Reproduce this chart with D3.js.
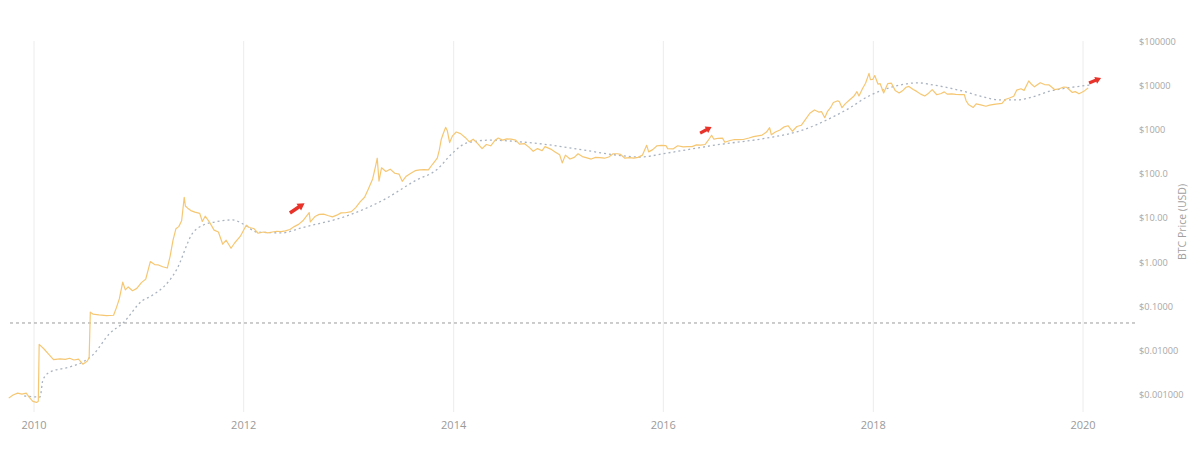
<!DOCTYPE html>
<html><head><meta charset="utf-8">
<script src="https://cdn.jsdelivr.net/npm/d3@7"></script>
<style>html,body{margin:0;padding:0;background:#fff;}svg{display:block;font-family:"Open Sans",sans-serif;}</style>
</head><body>
<svg id="chart" width="1200" height="457"></svg>
<script>
// ---- data ----
const priceSeries = [
["2009-10-05",0.00085],["2009-10-20",0.0010],["2009-11-05",0.0011],["2009-11-20",0.00105],["2009-12-05",0.0011],["2009-12-15",0.0009],["2009-12-28",0.00072],
["2010-01-10",0.00068],["2010-01-16",0.00072],["2010-01-19",0.0140],["2010-02-05",0.0110],["2010-02-20",0.0085],["2010-03-10",0.0063],["2010-04-01",0.0066],["2010-04-20",0.0064],["2010-05-05",0.0068],["2010-05-20",0.0062],["2010-06-05",0.0065],["2010-06-20",0.0050],["2010-07-05",0.0058],["2010-07-12",0.0070],["2010-07-16",0.075],["2010-07-25",0.068],["2010-08-15",0.065],["2010-09-10",0.063],["2010-10-05",0.064],["2010-10-15",0.095],["2010-10-25",0.15],["2010-11-06",0.36],["2010-11-15",0.24],["2010-11-25",0.28],["2010-12-10",0.23],["2010-12-25",0.26],
["2011-01-10",0.35],["2011-01-25",0.42],["2011-02-10",1.05],["2011-02-25",0.90],["2011-03-10",0.88],["2011-03-25",0.80],["2011-04-10",0.75],["2011-04-20",1.40],["2011-04-30",3.2],["2011-05-10",5.8],["2011-05-20",6.5],["2011-05-30",8.8],["2011-06-08",30],["2011-06-12",19],["2011-06-20",17],["2011-07-01",15],["2011-07-15",13.8],["2011-08-01",13],["2011-08-10",8.5],["2011-08-20",11.2],["2011-09-05",8],["2011-09-20",5.4],["2011-10-05",4.9],["2011-10-20",2.6],["2011-11-01",3.2],["2011-11-18",2.1],["2011-12-01",2.8],["2011-12-20",3.9],
["2012-01-10",7.0],["2012-01-20",6.2],["2012-02-05",5.9],["2012-02-20",4.6],["2012-03-10",4.9],["2012-03-25",4.7],["2012-04-10",4.9],["2012-04-25",5.1],["2012-05-10",5.0],["2012-05-25",5.2],["2012-06-10",5.6],["2012-06-25",6.5],["2012-07-10",7.3],["2012-07-25",8.8],["2012-08-16",13.5],["2012-08-20",8.3],["2012-09-05",11.0],["2012-09-20",12.3],["2012-10-05",12.5],["2012-10-20",11.6],["2012-11-05",10.8],["2012-11-20",11.8],["2012-12-05",13.3],["2012-12-20",13.4],
["2013-01-10",14.2],["2013-01-25",17.5],["2013-02-10",24],["2013-02-25",30],["2013-03-10",46],["2013-03-25",78],["2013-04-03",140],["2013-04-10",230],["2013-04-16",70],["2013-04-25",140],["2013-05-10",115],["2013-05-25",130],["2013-06-10",105],["2013-06-25",100],["2013-07-06",69],["2013-07-20",90],["2013-08-05",105],["2013-08-20",120],["2013-09-05",125],["2013-09-20",127],["2013-10-05",125],["2013-10-20",170],["2013-11-05",230],["2013-11-12",350],["2013-11-19",620],["2013-11-25",800],["2013-12-04",1150],["2013-12-10",960],["2013-12-18",520],["2013-12-28",740],
["2014-01-10",900],["2014-01-25",830],["2014-02-10",680],["2014-02-25",540],["2014-03-10",620],["2014-03-25",500],["2014-04-10",380],["2014-04-25",470],["2014-05-10",440],["2014-05-25",580],["2014-06-05",660],["2014-06-20",590],["2014-07-05",630],["2014-07-20",620],["2014-08-05",590],["2014-08-18",480],["2014-09-05",490],["2014-09-22",400],["2014-10-05",330],["2014-10-20",380],["2014-11-05",340],["2014-11-15",420],["2014-12-05",370],["2014-12-20",320],
["2015-01-05",275],["2015-01-14",180],["2015-01-25",270],["2015-02-10",220],["2015-02-25",240],["2015-03-10",290],["2015-03-25",250],["2015-04-10",235],["2015-04-25",220],["2015-05-10",240],["2015-05-25",238],["2015-06-10",230],["2015-06-25",245],["2015-07-10",290],["2015-07-25",290],["2015-08-05",280],["2015-08-20",230],["2015-09-05",238],["2015-09-20",230],["2015-10-05",240],["2015-10-20",270],["2015-11-04",450],["2015-11-11",320],["2015-11-25",360],["2015-12-10",440],["2015-12-25",450],
["2016-01-10",445],["2016-01-16",380],["2016-02-05",375],["2016-02-20",440],["2016-03-10",415],["2016-03-25",420],["2016-04-10",420],["2016-04-25",460],["2016-05-10",455],["2016-05-25",470],["2016-06-05",580],["2016-06-17",760],["2016-06-25",620],["2016-07-10",650],["2016-07-25",655],["2016-08-02",530],["2016-08-20",580],["2016-09-05",610],["2016-09-20",605],["2016-10-05",610],["2016-10-25",660],["2016-11-10",710],["2016-11-25",740],["2016-12-10",770],["2016-12-25",900],
["2017-01-05",1130],["2017-01-11",780],["2017-01-25",900],["2017-02-10",1000],["2017-02-25",1180],["2017-03-10",1250],["2017-03-25",940],["2017-04-10",1200],["2017-04-25",1280],["2017-05-10",1750],["2017-05-25",2400],["2017-06-10",2850],["2017-06-25",2550],["2017-07-05",2600],["2017-07-16",1900],["2017-07-25",2600],["2017-08-05",3200],["2017-08-15",4200],["2017-08-30",4600],["2017-09-05",4350],["2017-09-14",3200],["2017-09-25",3900],["2017-10-10",4800],["2017-10-25",5800],["2017-11-05",7400],["2017-11-12",5900],["2017-11-25",8800],["2017-12-05",11500],["2017-12-17",19200],["2017-12-22",13800],["2017-12-30",14000],
["2018-01-06",17100],["2018-01-17",11000],["2018-01-25",11200],["2018-02-06",6900],["2018-02-20",11200],["2018-03-05",11500],["2018-03-18",7900],["2018-04-01",6900],["2018-04-15",8000],["2018-04-25",9300],["2018-05-05",9700],["2018-05-20",8300],["2018-06-01",7500],["2018-06-15",6500],["2018-06-29",5900],["2018-07-10",6600],["2018-07-25",8200],["2018-08-10",6300],["2018-08-25",6700],["2018-09-05",7300],["2018-09-15",6500],["2018-10-01",6600],["2018-10-15",6400],["2018-11-01",6350],["2018-11-14",6300],["2018-11-20",4600],["2018-11-28",3800],["2018-12-15",3250],["2018-12-25",3900],
["2019-01-10",3700],["2019-01-28",3450],["2019-02-10",3650],["2019-02-25",3800],["2019-03-10",3900],["2019-03-25",4000],["2019-04-05",4900],["2019-04-20",5300],["2019-05-05",5800],["2019-05-15",8000],["2019-05-30",8600],["2019-06-10",7900],["2019-06-26",12900],["2019-07-05",11000],["2019-07-16",9500],["2019-08-05",11800],["2019-08-20",10700],["2019-09-05",10500],["2019-09-25",8200],["2019-10-10",8600],["2019-10-26",9400],["2019-11-05",9300],["2019-11-25",7100],["2019-12-05",7400],["2019-12-18",6600],["2019-12-30",7250],
["2020-01-08",7900],["2020-01-19",9000]
];
const movingAverage = [
["2009-11-28",0.00095],["2010-01-22",0.0009],["2010-02-01",0.0022],["2010-02-25",0.0033],["2010-05-05",0.0043],["2010-06-20",0.0056],["2010-07-25",0.0081],["2010-09-22",0.025],["2010-11-06",0.042],["2011-01-15",0.14],["2011-02-10",0.17],["2011-05-12",0.68],["2011-07-08",4.7],["2011-08-12",7.0],["2011-09-24",8.3],["2011-11-22",9.2],["2012-01-05",7.1],["2012-02-16",4.9],["2012-05-16",4.7],["2012-07-16",6.0],["2013-01-05",12],["2013-05-01",26],["2013-08-25",74],["2013-11-03",126],["2013-12-29",305],["2014-02-16",510],["2014-05-08",590],["2014-08-28",535],["2014-12-01",460],["2015-03-27",355],["2015-07-24",270],["2015-10-12",245],["2016-01-12",300],["2016-07-04",460],["2016-12-27",660],["2017-04-20",950],["2017-08-14",1990],["2017-10-12",3200],["2017-12-10",5600],["2018-02-04",8100],["2018-04-05",10500],["2018-06-04",11700],["2018-07-28",10500],["2018-09-24",8900],["2018-11-22",7200],["2019-01-19",5600],["2019-03-18",4800],["2019-05-16",4800],["2019-07-09",5600],["2019-09-08",7600],["2019-11-06",8900],["2020-01-26",10500]
];
const referenceLevel = [0.0427];
const arrows = [
 ["2012-06-10",13.2,"2012-07-31",22],
 ["2016-05-08",850,"2016-06-17",1170],
 ["2020-01-22",11600,"2020-03-04",15000]
];
const yTickValues = [0.001,0.01,0.1,1,10,100,1000,10000,100000];
const yTickLabels = ["$0.001000","$0.01000","$0.1000","$1.000","$10.00","$100.0","$1000","$10000","$100000"];
const xTickYears = [2010,2012,2014,2016,2018,2020];
const yAxisTitle = "BTC Price (USD)";

// ---- drawing ----
const svg = d3.select("#chart");
const parse = d3.utcParse("%Y-%m-%d");
const x = d3.scaleUtc().domain([Date.UTC(2010,0,1), Date.UTC(2020,0,1)]).range([34,1083]);
const y = d3.scaleLog().domain([0.001,100000]).range([395,41.7]);

// vertical grid
svg.append("g").selectAll("line").data(xTickYears).join("line")
  .attr("x1",d=>x(Date.UTC(d,0,1))).attr("x2",d=>x(Date.UTC(d,0,1)))
  .attr("y1",41).attr("y2",412).attr("stroke","#ececec").attr("stroke-width",1);

// x labels
svg.append("g").selectAll("text").data(xTickYears).join("text")
  .attr("x",d=>x(Date.UTC(d,0,1))).attr("y",429).attr("text-anchor","middle")
  .attr("font-size",11).attr("fill","#9a9a9a").text(d=>d);

// y labels
svg.append("g").selectAll("text").data(yTickValues).join("text")
  .attr("x",1139).attr("y",d=>y(d)).attr("dy","0.33em").attr("font-size",9.2)
  .attr("fill","#a8a8a8").text((d,i)=>yTickLabels[i]);

svg.append("text").attr("transform","translate(1186,222) rotate(-90)")
  .attr("text-anchor","middle").attr("font-size",10.5).attr("fill","#a0a0a0").text(yAxisTitle);

// reference horizontal dashed line
svg.append("g").selectAll("line").data(referenceLevel).join("line")
  .attr("x1",10).attr("x2",1136).attr("y1",d=>y(d)).attr("y2",d=>y(d))
  .attr("stroke","#9a9a9a").attr("stroke-width",1).attr("stroke-dasharray","3,3");

// moving average dashed
const maLine = d3.line().x(d=>x(parse(d[0]))).y(d=>y(d[1])).curve(d3.curveMonotoneX);
svg.append("path").attr("d",maLine(movingAverage)).attr("fill","none")
  .attr("stroke","#a9b3c0").attr("stroke-width",1.3).attr("stroke-dasharray","2,3");

// price line
const priceLine = d3.line().x(d=>x(parse(d[0]))).y(d=>y(d[1]));
svg.append("path").attr("d",priceLine(priceSeries)).attr("fill","none")
  .attr("stroke","#f6c772").attr("stroke-width",1.2).attr("stroke-linejoin","round");

// arrows
svg.append("g").selectAll("path").data(arrows).join("path")
  .attr("d",d=>{
    const x0=x(parse(d[0])), y0=y(d[1]), x1=x(parse(d[2])), y1=y(d[3]);
    const dx=x1-x0, dy=y1-y0, L=Math.hypot(dx,dy), ux=dx/L, uy=dy/L, px=-uy, py=ux;
    const w=L>15?1.8:1.6, hw=w*2.3, hl=Math.min(7,L*0.45);
    const bx=x1-ux*hl, by=y1-uy*hl;
    const pts=[[x0+px*w,y0+py*w],[bx+px*w,by+py*w],[bx+px*hw,by+py*hw],[x1,y1],[bx-px*hw,by-py*hw],[bx-px*w,by-py*w],[x0-px*w,y0-py*w]];
    return "M"+pts.map(p=>p.join(",")).join("L")+"Z";
  }).attr("fill","#e8332b");
</script>
</body></html>
